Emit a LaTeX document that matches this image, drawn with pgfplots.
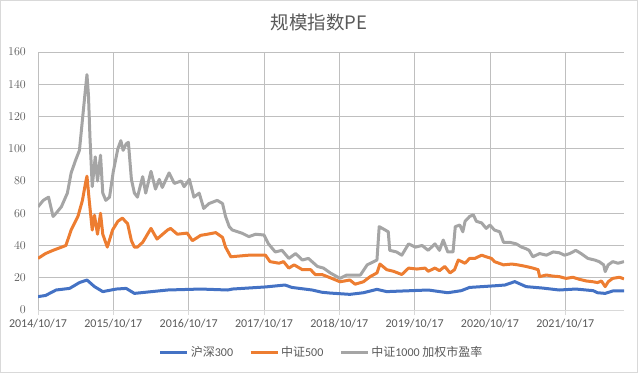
\documentclass[border=0pt]{standalone}
\usepackage{pgfplots}
\pgfplotsset{compat=1.18}
\usepackage{fontspec}
\setmainfont{Carlito}
\newfontfamily\cjk{Noto Sans CJK SC}
\definecolor{cblue}{HTML}{4472C4}
\definecolor{corange}{HTML}{ED7D31}
\definecolor{cgray}{HTML}{A5A5A5}
\definecolor{grid}{HTML}{D9D9D9}
\definecolor{txt}{HTML}{595959}
\begin{document}
\begin{tikzpicture}[x=1pt,y=1pt]
\useasboundingbox (0,0) rectangle (638,373);
\draw[grid, line width=0.75pt] (0.5,0.5) rectangle (637.5,372.5);
\node[txt, font=\cjk\fontsize{18.5}{20}\selectfont] at (319,351) {规模指数PE};
\begin{axis}[
  at={(38pt,63pt)}, anchor=south west,
  scale only axis, width=586pt, height=258pt,
  xmin=0, xmax=7.78, ymin=0, ymax=160,
  axis x line*=bottom, axis y line*=left,
  x axis line style={draw=grid, line width=0.75pt, -},
  y axis line style={draw=none},
  ytick={0,20,...,160},
  xtick={0,1,2,3,4,5,6,7},
  xticklabels={2014/10/17,2015/10/17,2016/10/17,2017/10/17,2018/10/17,2019/10/17,2020/10/17,2021/10/17},
  ymajorgrids, grid style={grid, line width=0.75pt},
  ytick style={draw=none},
  xtick style={draw=grid, line width=0.75pt},
  tick align=outside, major tick length=5pt,
  ticklabel style={font=\fontsize{12}{14}\selectfont, text=txt},
  yticklabel style={inner sep=0pt, anchor=east, xshift=-7pt},
  xticklabel style={inner sep=0pt, anchor=north, yshift=-4pt},
  legend columns=3,
  legend style={draw=none, fill=none, at={(axis description cs:0.484,-0.163)}, anchor=center,
    font=\fontsize{12}{14}\selectfont, text=txt,
    /tikz/every even column/.append style={column sep=14pt}},
  legend image code/.code={\draw[#1, line width=3pt] (0pt,0pt) -- (27pt,0pt);},
  every axis plot/.append style={line width=3pt, line join=round, mark=none},
]
\addplot[cblue] coordinates {(0.00,8.3)(0.10,9)(0.24,12.4)(0.42,13.4)(0.55,17)(0.65,18.6)(0.75,14.5)(0.86,11.4)(1.04,13)(1.17,13.4)(1.28,10.3)(1.72,12.4)(2.16,13)(2.52,12.4)(2.58,13)(3.02,14.3)(3.28,15.5)(3.37,14)(3.64,12.4)(3.77,11)(3.88,10.5)(4.14,9.7)(4.32,10.7)(4.50,12.8)(4.63,11.4)(4.85,11.8)(5.18,12.4)(5.44,10.7)(5.62,12)(5.73,14)(6.06,15)(6.20,15.5)(6.33,17.6)(6.48,14.5)(6.70,13.6)(6.92,12.4)(7.14,13)(7.37,12)(7.43,10.7)(7.53,10.3)(7.63,11.8)(7.78,11.8)};
\addlegendentry{{\cjk 沪深}300}
\addplot[corange] coordinates {(0.00,32)(0.10,35)(0.20,37)(0.37,40)(0.44,49.6)(0.53,58)(0.59,68)(0.63,78.5)(0.65,83)(0.68,68)(0.72,49.6)(0.75,58.8)(0.79,47)(0.83,60)(0.86,47)(0.92,39)(0.99,49.6)(1.06,55)(1.12,57)(1.19,53.5)(1.24,43)(1.28,39)(1.32,39)(1.39,42)(1.50,50.6)(1.58,44)(1.72,49.6)(1.76,50.6)(1.85,47)(1.98,47.7)(2.05,43)(2.16,46.3)(2.25,47)(2.36,48)(2.45,45)(2.49,39)(2.56,33)(2.80,34)(3.02,34)(3.08,30)(3.20,29)(3.26,30)(3.33,26)(3.40,28)(3.51,25)(3.62,25)(3.68,22)(3.77,22)(3.88,20)(4.01,17.5)(4.14,18.6)(4.21,16)(4.32,17.5)(4.41,20.7)(4.50,23)(4.54,28.5)(4.63,25)(4.72,24)(4.83,22)(4.92,26)(5.03,25.4)(5.14,26)(5.18,24)(5.27,26)(5.33,24.4)(5.40,27)(5.47,23)(5.53,25)(5.58,31)(5.67,29)(5.73,32)(5.80,32)(5.89,34)(5.95,33)(6.02,32)(6.06,30)(6.18,28)(6.29,28.5)(6.37,28)(6.48,27)(6.57,26)(6.64,25)(6.66,20.7)(6.75,21.7)(6.84,21)(6.92,20.7)(7.01,19.6)(7.10,20.3)(7.19,19)(7.28,18)(7.37,17.5)(7.43,17)(7.48,18)(7.53,14.5)(7.57,17.5)(7.63,19.6)(7.72,20.3)(7.78,19.3)};
\addlegendentry{{\cjk 中证}500}
\addplot[cgray] coordinates {(0.00,64)(0.07,68)(0.14,70)(0.20,58)(0.24,60)(0.31,64)(0.39,72.5)(0.44,85)(0.50,93)(0.55,99)(0.59,118)(0.63,137)(0.65,146)(0.67,133)(0.69,107)(0.72,76.5)(0.76,95)(0.79,80)(0.83,96)(0.86,72.5)(0.90,68)(0.95,70)(1.00,86)(1.06,100)(1.10,105)(1.13,99)(1.17,103)(1.20,104)(1.24,81)(1.28,72.5)(1.32,70)(1.39,82.7)(1.43,72.5)(1.50,86)(1.56,75)(1.61,81)(1.65,76)(1.74,85)(1.81,78.5)(1.90,80)(1.94,76.5)(2.01,81)(2.07,70)(2.14,72.5)(2.20,63)(2.27,66)(2.38,68)(2.45,66)(2.49,58)(2.54,51.6)(2.58,49.6)(2.71,47.6)(2.80,45.5)(2.89,47)(3.00,46.5)(3.06,41)(3.15,36)(3.24,37)(3.33,32)(3.42,35)(3.51,31)(3.59,32)(3.71,27)(3.79,26)(3.88,23)(4.01,19.6)(4.10,21.7)(4.28,21.7)(4.37,28)(4.50,31)(4.53,51.7)(4.61,49.6)(4.65,48.5)(4.67,37)(4.76,36)(4.83,34)(4.92,41)(5.01,39)(5.10,40)(5.18,37)(5.27,41)(5.33,37)(5.38,43.4)(5.44,36)(5.51,36)(5.54,51.7)(5.60,52.7)(5.64,48.5)(5.67,55)(5.73,58)(5.78,59)(5.82,55)(5.89,54)(5.95,50.6)(6.00,52.7)(6.06,49.6)(6.13,48.5)(6.18,42)(6.26,42)(6.35,41)(6.42,39)(6.48,38)(6.52,37)(6.57,33)(6.66,35)(6.75,34)(6.84,36)(6.92,35.5)(6.99,34)(7.06,35)(7.14,37)(7.21,35)(7.30,32)(7.39,31)(7.45,30)(7.51,28)(7.53,23.8)(7.57,28)(7.63,30)(7.70,29)(7.78,30)};
\addlegendentry{{\cjk 中证}1000 {\cjk 加权市盈率}}
\end{axis}
\end{tikzpicture}
\end{document}
